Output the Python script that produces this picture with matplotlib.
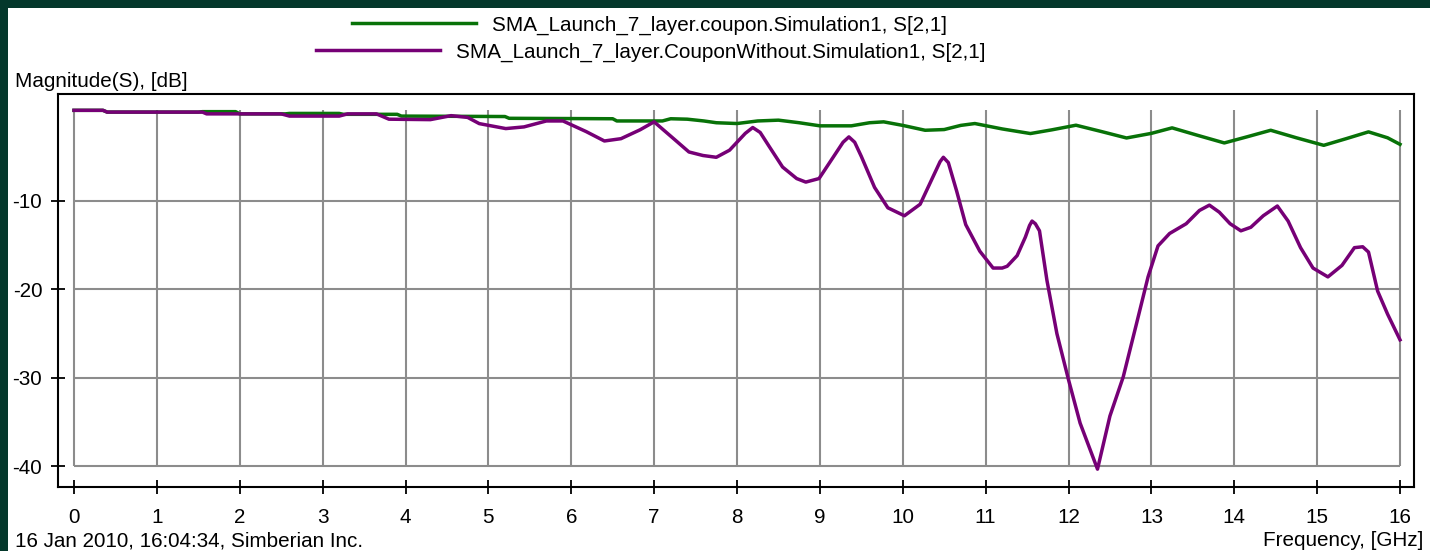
import matplotlib
matplotlib.use("Agg")
import matplotlib.pyplot as plt
from matplotlib.lines import Line2D
from matplotlib.patches import Rectangle

# ---------------- data ----------------
freq_green = [0.0, 0.35, 0.4, 1.5, 1.55, 1.95, 2.0, 2.55, 2.6, 3.2, 3.25, 3.9, 3.95,
              5.2, 5.25, 6.5, 6.55, 7.1, 7.2, 7.4, 7.6, 7.75, 8.0, 8.25, 8.5, 8.75,
              9.0, 9.38, 9.6, 9.77, 10.0, 10.27, 10.5, 10.7, 10.87, 11.2, 11.54, 11.8,
              12.09, 12.4, 12.7, 13.0, 13.25, 13.55, 13.88, 14.15, 14.44, 14.75, 15.08,
              15.35, 15.62, 15.85, 16.0]
mag_green = [0.2, 0.2, 0.0, 0.0, 0.05, 0.05, -0.2, -0.2, -0.15, -0.15, -0.25, -0.25, -0.45,
             -0.5, -0.7, -0.75, -1.0, -1.0, -0.75, -0.8, -1.0, -1.2, -1.29, -1.0, -0.91, -1.2,
             -1.55, -1.55, -1.2, -1.1, -1.5, -2.05, -1.97, -1.5, -1.29, -1.9, -2.42, -2.0,
             -1.48, -2.2, -2.92, -2.4, -1.78, -2.6, -3.48, -2.8, -2.05, -2.9, -3.75,
             -3.0, -2.23, -2.9, -3.64]

freq_purple = [0.0, 0.35, 0.4, 1.55, 1.6, 2.5, 2.6, 3.2, 3.3, 3.65, 3.8, 4.3, 4.55, 4.75,
               4.89, 5.21, 5.43, 5.7, 5.9, 6.18, 6.4, 6.6, 6.83, 7.0, 7.26, 7.42, 7.59,
               7.75, 7.91, 8.1, 8.19, 8.28, 8.39, 8.55, 8.72, 8.83, 8.99, 9.16, 9.28, 9.35,
               9.42, 9.5, 9.66, 9.82, 10.02, 10.21, 10.38, 10.45, 10.49, 10.55, 10.65, 10.76,
               10.93, 11.09, 11.2, 11.26, 11.38, 11.48, 11.53, 11.56, 11.6, 11.65, 11.74,
               11.86, 12.0, 12.14, 12.35, 12.5, 12.66, 12.82, 12.96, 13.08, 13.22, 13.42,
               13.58, 13.7, 13.82, 13.95, 14.08, 14.2, 14.35, 14.52, 14.65, 14.8, 14.95,
               15.13, 15.3, 15.45, 15.55, 15.62, 15.73, 15.85, 16.0]
mag_purple = [0.2, 0.2, 0.0, 0.0, -0.2, -0.2, -0.45, -0.45, -0.2, -0.2, -0.8, -0.85, -0.4,
              -0.6, -1.3, -1.86, -1.67, -1.0, -1.0, -2.2, -3.26, -3.0, -2.0, -1.1, -3.2,
              -4.5, -4.9, -5.1, -4.3, -2.4, -1.74, -2.3, -3.9, -6.2, -7.5, -7.9, -7.5,
              -5.1, -3.4, -2.8, -3.4, -5.0, -8.5, -10.8, -11.7, -10.4, -7.0, -5.6, -5.1,
              -5.7, -8.9, -12.7, -15.7, -17.6, -17.6, -17.4, -16.2, -14.1, -12.8, -12.3,
              -12.6, -13.4, -19.0, -25.0, -30.2, -35.1, -40.3, -34.3, -29.9, -23.9, -18.6,
              -15.1, -13.7, -12.6, -11.1, -10.5, -11.3, -12.6, -13.4, -13.0, -11.7, -10.6,
              -12.3, -15.3, -17.6, -18.6, -17.3, -15.3, -15.2, -15.8, -20.2, -22.8, -25.7]

series_labels = ["SMA_Launch_7_layer.coupon.Simulation1, S[2,1]",
                 "SMA_Launch_7_layer.CouponWithout.Simulation1, S[2,1]"]
x_ticks = list(range(0, 17))
y_ticks = [-10, -20, -30, -40]
y_label = "Magnitude(S), [dB]"
x_label = "Frequency, [GHz]"
footer = "16 Jan 2010, 16:04:34, Simberian Inc."

# ---------------- style ----------------
W, H = 1430, 551
FONT = "Liberation Sans"
FS = 14.9
GREEN = "#087208"
PURPLE = "#760076"
GRID = "#8c8c8c"
BG = "#04382b"
LW = 2.5

plt.rcParams["font.family"] = [FONT, "DejaVu Sans"]

fig = plt.figure(figsize=(W / 100, H / 100), dpi=100)
fig.patch.set_facecolor(BG)
fig.patches.append(Rectangle((8 / W, 0), 1 - 8 / W, 1 - 8 / H, transform=fig.transFigure,
                             facecolor="white", edgecolor="none", zorder=-10))

# axes frame in pixels
left_px, right_px, top_px, bot_px = 57.5, 1414, 94, 487
ax = fig.add_axes([left_px / W, 1 - bot_px / H, (right_px - left_px) / W, (bot_px - top_px) / H])
ax.set_facecolor("none")
ax.set_zorder(5)

# data->pixel scales
x0_px, xpg = 74, 82.875
y0_px, ypd = 112.1, 8.86
ax.set_xlim(-(x0_px - left_px) / xpg, 16 + (right_px - (x0_px + 16 * xpg)) / xpg)
ax.set_ylim(-40 - (bot_px - (y0_px + 40 * ypd)) / ypd, (y0_px - top_px) / ypd)

# grid
grid_top = 0.25
ax.vlines(x_ticks, -40, grid_top, color=GRID, lw=1.5, zorder=1)
ax.hlines(y_ticks, x_ticks[0], x_ticks[-1], color=GRID, lw=1.5, zorder=1)

l1, = ax.plot(freq_green, mag_green, color=GREEN, lw=LW, zorder=3,
              solid_joinstyle="round", label=series_labels[0])
l2, = ax.plot(freq_purple, mag_purple, color=PURPLE, lw=LW, zorder=4,
              solid_joinstyle="round", label=series_labels[1])

for s in ax.spines.values():
    s.set_color("black")
    s.set_linewidth(1.5)

ax.set_xticks(x_ticks)
ax.set_xticklabels([str(t) for t in x_ticks])
ax.set_yticks(y_ticks)
ax.set_yticklabels([str(t) for t in y_ticks])
ax.tick_params(axis="both", direction="inout", length=10, width=1.3, color="black",
               labelsize=FS, labelcolor="black")
ax.tick_params(axis="x", pad=10)
ax.tick_params(axis="y", pad=6)

# texts
fig.text(15 / W, 1 - 87 / H, y_label, fontsize=FS, ha="left", va="baseline")
fig.text(15 / W, 1 - 546.5 / H, footer, fontsize=FS, ha="left", va="baseline")
fig.text(1423 / W, 1 - 546.5 / H, x_label, fontsize=FS, ha="right", va="baseline")

# legends (one centered row each)
hl = 124 / (FS * 100 / 72)
tp = 16 / (FS * 100 / 72)
for line, lab, lx, ly in [(l1, series_labels[0], 352, 25), (l2, series_labels[1], 316, 52)]:
    h = Line2D([], [], color=line.get_color(), lw=LW)
    fig.legend(handles=[h], labels=[lab], loc="center left",
               bbox_to_anchor=(lx / W, 1 - ly / H), frameon=False, fontsize=FS,
               borderpad=0, borderaxespad=0, handlelength=hl, handletextpad=tp)

fig.savefig("out.png", dpi=100, facecolor=fig.get_facecolor())
